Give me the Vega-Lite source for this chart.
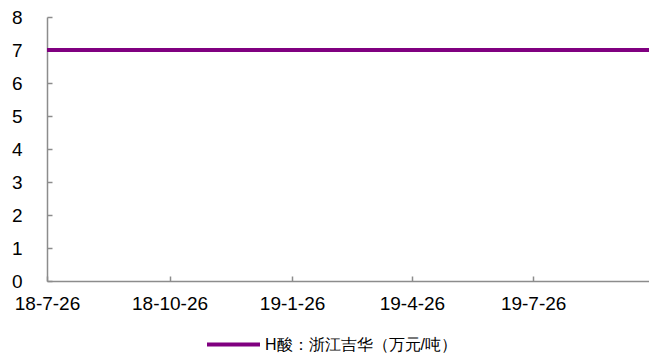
{
  "$schema": "https://vega.github.io/schema/vega-lite/v6.json",
  "width": 602,
  "height": 264,
  "autosize": {"type": "none"},
  "padding": {"left": 47, "top": 17, "right": 0, "bottom": 73},
  "background": "white",
  "config": {"view": {"stroke": null}, "font": "Liberation Sans"},
  "data": {
    "values": [
      {"date": "2018-07-26", "value": 7, "series": "H酸：浙江吉华（万元/吨）"},
      {"date": "2018-08-26", "value": 7, "series": "H酸：浙江吉华（万元/吨）"},
      {"date": "2018-09-26", "value": 7, "series": "H酸：浙江吉华（万元/吨）"},
      {"date": "2018-10-26", "value": 7, "series": "H酸：浙江吉华（万元/吨）"},
      {"date": "2018-11-26", "value": 7, "series": "H酸：浙江吉华（万元/吨）"},
      {"date": "2018-12-26", "value": 7, "series": "H酸：浙江吉华（万元/吨）"},
      {"date": "2019-01-26", "value": 7, "series": "H酸：浙江吉华（万元/吨）"},
      {"date": "2019-02-26", "value": 7, "series": "H酸：浙江吉华（万元/吨）"},
      {"date": "2019-03-26", "value": 7, "series": "H酸：浙江吉华（万元/吨）"},
      {"date": "2019-04-26", "value": 7, "series": "H酸：浙江吉华（万元/吨）"},
      {"date": "2019-05-26", "value": 7, "series": "H酸：浙江吉华（万元/吨）"},
      {"date": "2019-06-26", "value": 7, "series": "H酸：浙江吉华（万元/吨）"},
      {"date": "2019-07-26", "value": 7, "series": "H酸：浙江吉华（万元/吨）"},
      {"date": "2019-08-26", "value": 7, "series": "H酸：浙江吉华（万元/吨）"},
      {"date": "2019-09-26", "value": 7, "series": "H酸：浙江吉华（万元/吨）"},
      {"date": "2019-10-21", "value": 7, "series": "H酸：浙江吉华（万元/吨）"}
    ]
  },
  "mark": {"type": "line", "strokeWidth": 4, "clip": true},
  "encoding": {
    "x": {
      "field": "date",
      "type": "temporal",
      "scale": {"type": "utc", "domain": [{"year": 2018, "month": 7, "date": 26, "utc": true}, {"year": 2019, "month": 10, "date": 21, "utc": true}]},
      "axis": {
        "title": null,
        "format": "%y-%-m-%d",
        "values": [
          {"year": 2018, "month": 7, "date": 26, "utc": true},
          {"year": 2018, "month": 10, "date": 26, "utc": true},
          {"year": 2019, "month": 1, "date": 26, "utc": true},
          {"year": 2019, "month": 4, "date": 26, "utc": true},
          {"year": 2019, "month": 7, "date": 26, "utc": true}
        ],
        "grid": false,
        "domainColor": "#8c8c8c",
        "domainWidth": 1.5,
        "tickColor": "#8c8c8c",
        "tickSize": -5,
        "tickWidth": 1.5,
        "labelPadding": 18,
        "labelFontSize": 19,
        "labelColor": "#000000",
        "labelFont": "Liberation Sans",
        "labelFlush": false,
        "labelOverlap": false
      }
    },
    "y": {
      "field": "value",
      "type": "quantitative",
      "scale": {"domain": [0, 8], "nice": false},
      "axis": {
        "title": null,
        "values": [0, 1, 2, 3, 4, 5, 6, 7, 8],
        "grid": false,
        "domainColor": "#8c8c8c",
        "domainWidth": 1.5,
        "tickColor": "#8c8c8c",
        "tickSize": -5,
        "tickWidth": 1.5,
        "labelPadding": 30,
        "labelFontSize": 19,
        "labelColor": "#000000",
        "labelFont": "Liberation Sans"
      }
    },
    "color": {
      "field": "series",
      "type": "nominal",
      "scale": {"range": ["#800080"]},
      "legend": {
        "title": null,
        "orient": "none",
        "legendX": 158,
        "legendY": 299,
        "symbolType": "stroke",
        "symbolSize": 2809,
        "symbolStrokeWidth": 4,
        "labelFontSize": 16,
        "labelLimit": 500,
        "labelColor": "#000000",
        "labelFont": "Liberation Sans",
        "labelOffset": 3
      }
    }
  }
}
